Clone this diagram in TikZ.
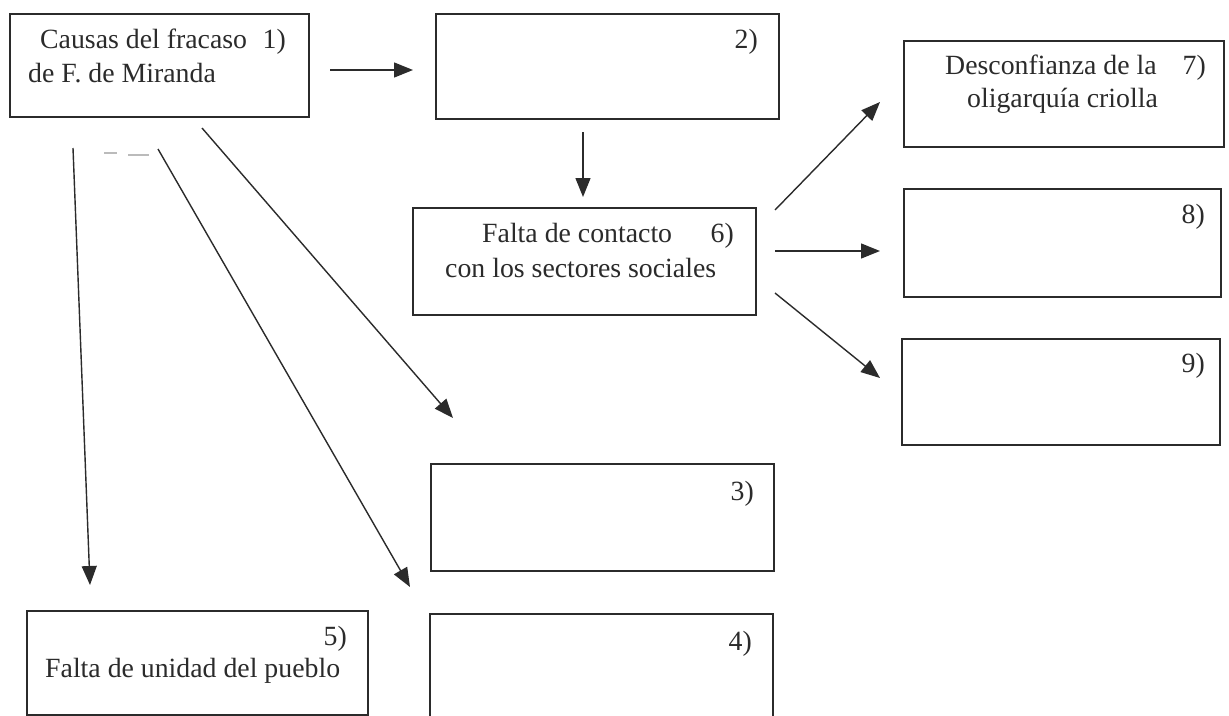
\documentclass[tikz,border=0pt]{standalone}
\usepackage{fontspec}
\setmainfont{Liberation Serif}
\usetikzlibrary{arrows.meta}
\definecolor{ink}{HTML}{2B2B2B}
\definecolor{faint}{HTML}{BBBBBB}
\begin{document}
\begin{tikzpicture}[x=1pt,y=-1pt,
  box/.style={draw=ink, line width=1.5pt, rectangle, inner sep=0pt, anchor=north west},
  txt/.style={inner sep=0pt, text=ink, font=\fontsize{27.8}{33}\selectfont},
  arr/.style={draw=ink, line width=1.4pt, -{Triangle[length=19pt,width=15pt]}}]
\useasboundingbox[fill=white] (0,0) rectangle (1229,715);
% boxes
\node[box, minimum width=299pt, minimum height=103pt] (b1) at (9,13) {};
\node[box, minimum width=343pt, minimum height=105pt] (b2) at (435,13) {};
\node[box, minimum width=343pt, minimum height=107pt] (b6) at (412,207) {};
\node[box, minimum width=320pt, minimum height=106pt] (b7) at (903,40) {};
\node[box, minimum width=317pt, minimum height=108pt] (b8) at (903,188) {};
\node[box, minimum width=318pt, minimum height=106pt] (b9) at (901,338) {};
\node[box, minimum width=343pt, minimum height=107pt] (b3) at (430,463) {};
\node[box, minimum width=343pt, minimum height=110pt] (b4) at (429,613) {};
\node[box, minimum width=341pt, minimum height=104pt] (b5) at (26,610) {};
% texts
\node[txt, anchor=base west] (t1a) at (40,48) {Causas del fracaso};
\node[txt, anchor=base east] (n1) at (286,48) {1)};
\node[txt, anchor=base west] (t1b) at (28,82) {de F. de Miranda};
\node[txt, anchor=base east] (n2) at (758,48) {2)};
\node[txt, anchor=base west] (t6a) at (482,242) {Falta de contacto};
\node[txt, anchor=base east] (n6) at (734,242) {6)};
\node[txt, anchor=base west] (t6b) at (445,277) {con los sectores sociales};
\node[txt, anchor=base west] (t7a) at (945,74) {Desconfianza de la};
\node[txt, anchor=base east] (n7) at (1206,74) {7)};
\node[txt, anchor=base west] (t7b) at (967,107) {oligarquía criolla};
\node[txt, anchor=base east] (n8) at (1205,223) {8)};
\node[txt, anchor=base east] (n9) at (1205,372) {9)};
\node[txt, anchor=base east] (n3) at (754,500) {3)};
\node[txt, anchor=base east] (n4) at (752,650) {4)};
\node[txt, anchor=base east] (n5) at (347,645) {5)};
\node[txt, anchor=base west] (t5) at (45,677) {Falta de unidad del pueblo};
% connector end points
\coordinate (a12s) at (330,70);  \coordinate (a12e) at (413,70);
\coordinate (a26s) at (583,132); \coordinate (a26e) at (583,197);
\coordinate (a67s) at (775,210); \coordinate (a67e) at (880,102);
\coordinate (a68s) at (775,251); \coordinate (a68e) at (880,251);
\coordinate (a69s) at (775,293); \coordinate (a69e) at (880,378);
\coordinate (a13s) at (202,128); \coordinate (a13e) at (453,418);
\coordinate (a14s) at (158,149); \coordinate (a14e) at (410,587);
\coordinate (a15s) at (73,148);  \coordinate (a15e) at (90,585);
% connectors
\draw[arr] (a12s) -- (a12e);
\draw[arr] (a26s) -- (a26e);
\draw[arr] (a67s) -- (a67e);
\draw[arr] (a68s) -- (a68e);
\draw[arr] (a69s) -- (a69e);
\draw[arr] (a13s) -- (a13e);
\draw[arr] (a14s) -- (a14e);
\draw[arr] (a15s) -- (a15e);
% faint scan marks
\draw[faint, line width=1.2pt] (104,153) -- (117,153);
\draw[faint, line width=1.2pt] (128,155) -- (149,155);
\end{tikzpicture}
\end{document}
